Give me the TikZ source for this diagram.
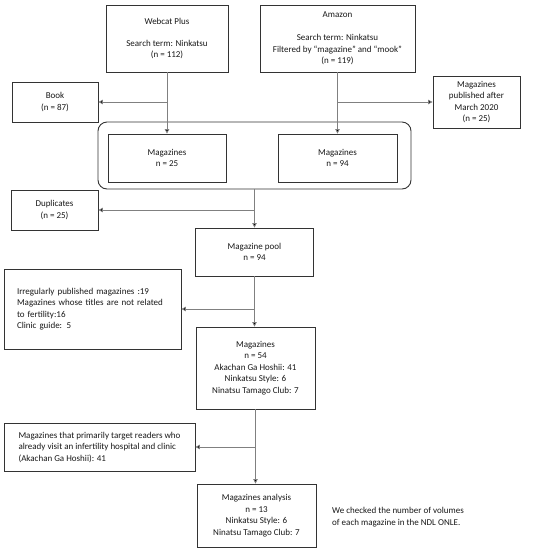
\documentclass[tikz,border=0pt]{standalone}
\usepackage{fontspec}
\setmainfont{Carlito}
\usetikzlibrary{arrows.meta}
\tikzset{
  box/.style={draw=black!80, line width=0.9pt, inner sep=0pt, align=center,
    font=\fontsize{9}{11.5}\selectfont, text=black!90},
  lbox/.style={box, align=left},
  conn/.style={draw=black!50, line width=0.8pt, -{Triangle[width=4.5pt,length=4.5pt,fill=black]}},
  plain/.style={font=\fontsize{9}{11.5}\selectfont, text=black!90, align=left, inner sep=0pt}
}
\begin{document}
\begin{tikzpicture}[x=1pt,y=-1pt]
\useasboundingbox[fill=white] (0,0) rectangle (548,550);
\node[box, minimum width=122, minimum height=67] (web) at (167,38.5)
  {Webcat Plus\\[10.5pt]Search term: Ninkatsu\\(n = 112)};
\node[box, minimum width=155, minimum height=67] (amz) at (337.5,38.5)
  {Amazon\\[11.5pt]Search term: Ninkatsu\\Filtered by ``magazine'' and ``mook''\\(n = 119)};
\node[box, minimum width=86, minimum height=40] (book) at (55,102) {Book\\(n = 87)};
\node[box, minimum width=87, minimum height=52] (pub) at (476.5,102)
  {Magazines\\published after\\March 2020\\(n = 25)};
\node[box, rounded corners=9pt, minimum width=313, minimum height=67] (cont) at (254.5,155.5) {};
\node[box, minimum width=118, minimum height=48] (magL) at (167,158) {Magazines\\n = 25};
\node[box, minimum width=119, minimum height=48] (magR) at (337.5,158) {Magazines\\n = 94};
\node[box, minimum width=87, minimum height=40] (dup) at (54.5,210) {Duplicates\\(n = 25)};
\node[box, minimum width=118, minimum height=48] (pool) at (254.5,252) {Magazine pool\\n = 94};
\node[lbox, text width=151pt, inner xsep=13pt, minimum height=80] (irr) at (92.5,309)
  {Irregularly published magazines :19\\Magazines whose titles are not related\\to fertility:16\\Clinic guide: 5};
\node[box, minimum width=119, minimum height=82] (mag54) at (255.5,368)
  {Magazines\\n = 54\\Akachan Ga Hoshii: 41\\Ninkatsu Style: 6\\Ninatsu Tamago Club: 7};
\node[lbox, minimum width=191, minimum height=48] (target) at (99.5,447)
  {Magazines that primarily target readers who\\already visit an infertility hospital and clinic\\(Akachan Ga Hoshii): 41};
\node[box, minimum width=119, minimum height=63] (ana) at (256.5,515.5)
  {Magazines analysis\\n = 13\\Ninkatsu Style: 6\\Ninatsu Tamago Club: 7};
\node[plain, anchor=west] (note) at (332,517)
  {We checked the number of volumes\\of each magazine in the NDL ONLE.};
\draw[conn] (web.south) -- (magL.north);
\draw[conn] (web.south |- book.east) -- (book.east);
\draw[conn] (amz.south) -- (magR.north);
\draw[conn] (amz.south |- pub.west) -- (pub.west);
\draw[conn] (cont.south) -- (cont.south |- pool.north);
\draw[conn] (cont.south |- dup.east) -- (dup.east);
\draw[conn] (pool.south) -- (pool.south |- mag54.north);
\draw[conn] (pool.south |- irr.east) -- (irr.east);
\draw[conn] (mag54.south) -- (mag54.south |- ana.north);
\draw[conn] (mag54.south |- target.east) -- (target.east);
\end{tikzpicture}
\end{document}
